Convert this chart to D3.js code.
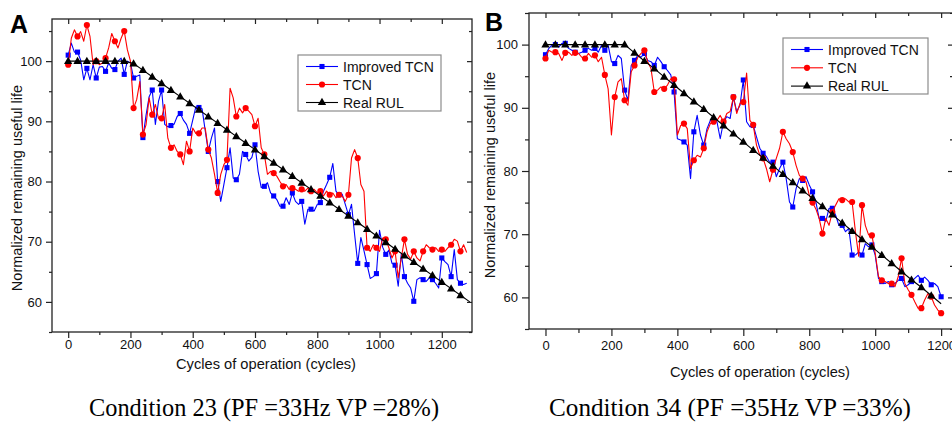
<!DOCTYPE html>
<html>
<head>
<meta charset="utf-8">
<script src="https://cdn.jsdelivr.net/npm/d3@7"></script>
<style>
  body { margin: 0; background: #ffffff; }
</style>
</head>
<body>
<div id="chart"></div>
<script>
// ---- data (RUL in %, one value every 10 cycles) ----
const cycleStep = 10;
const markerEvery = 3; // one marker every 30 cycles

// Panel A: condition 23
const improvedA = [101, 103, 101.5, 101.5, 100.2, 96.9, 98.8, 96.9, 99.4, 97.2,
  99.0, 99.1, 98.3, 99.7, 98.8, 98.6, 100, 100.5, 97.8, 100,
  99.7, 97.2, 97.5, 97.7, 87.3, 91, 94.1, 95.2, 89.5, 93.3,
  95.2, 89.5, 89.1, 89.3, 89.5, 90.8, 91.3, 90.2, 89.5, 88.0,
  90.2, 92.4, 92.3, 92.1, 88.5, 85, 87.2, 88.9, 80, 76.7,
  79.5, 82.3, 85.6, 80.6, 80.3, 81.2, 85, 84.5, 83.4, 84,
  86.1, 81.7, 79, 79.2, 79.8, 78.1, 77.6, 77, 75.9, 75.9,
  77.3, 76.2, 78.1, 76.7, 76.2, 76.7, 72.9, 75.4, 75.4, 75.1,
  76.2, 76.5, 78.4, 79.5, 80.7, 83.0, 78.4, 77.8, 77.9, 76.2,
  74.5, 76.2, 71.2, 66.4, 70.7, 68.5, 66.2, 63.9, 64.2, 64.7,
  71.9, 69.1, 67.9, 68.6, 66.4, 66.1, 62.6, 68, 64.2, 63.1,
  62.3, 60.1, 63.7, 64, 63.7, 63.4, 64, 63.7, 63.1, 62.3,
  67.3, 66.7, 66.2, 64.2, 68.7, 63.7, 63.1, 62.9, 63.1];
const tcnA = [99.4, 103.8, 105.2, 104.1, 104.9, 103.3, 106, 104.1, 99.4, 100,
  99.4, 99.7, 100.5, 102.2, 104.6, 103.3, 102.2, 103.8, 105, 101.9,
  100, 92.2, 93.6, 96.6, 87.8, 89.4, 93.9, 91.1, 92.8, 90.5,
  90.5, 92.8, 87.2, 85.6, 86.1, 85, 84.5, 82.8, 86.7, 85,
  88.9, 88, 88, 88.9, 88.9, 85.3, 83.9, 81.2, 78.1, 81.2,
  82.8, 83.6, 95.5, 93.9, 90.8, 92.2, 91.4, 92.2, 91.7, 91.1,
  89.2, 90.5, 85.6, 84.5, 81.2, 81.7, 81.4, 80.9, 80, 79.2,
  79.5, 78.7, 78.9, 78.7, 78.4, 78.7, 78.4, 78.9, 78.4, 78.7,
  78.1, 78.4, 77.6, 78.4, 77.8, 78.1, 77.3, 77.8, 77.6, 76.7,
  77.8, 83.9, 85.3, 83.9, 79.5, 78.4, 69, 68.4, 69.5, 69,
  68.4, 70.6, 70.4, 69, 67.3, 68.4, 64, 67.3, 70.4, 67.9,
  67.1, 68.4, 67.3, 66.8, 68.4, 69.5, 69, 68.7, 69, 68.4,
  68.7, 68.4, 69, 69.5, 70.4, 70.1, 68.4, 69.5, 68.2];
const rulCyclesA = [0, 30, 60, 90, 120, 150, 180, 210, 240, 270, 300, 330, 360, 390, 420,
  450, 480, 510, 540, 570, 600, 630, 660, 690, 720, 750, 780, 810, 840, 870,
  900, 930, 960, 990, 1020, 1050, 1080, 1110, 1140, 1170, 1200, 1230, 1260, 1290];
const rulA = [100, 100, 100, 100, 100, 100, 100, 99.6, 98.5, 97.4, 96.3, 95.2, 94.1, 93.0, 91.9,
  90.8, 89.7, 88.6, 87.5, 86.4, 85.3, 84.2, 83.1, 82.0, 80.9, 79.8, 78.7, 77.6, 76.5, 75.4,
  74.3, 73.2, 72.1, 71.0, 69.9, 68.8, 67.7, 66.6, 65.5, 64.4, 63.3, 62.2, 61.1, 60.0];

// Panel B: condition 34
const improvedB = [98.4, 99.4, 99.9, 100, 99.6, 100.2, 100.2, 99.4, 99.1, 98.8,
  98.6, 98.8, 99.1, 99.4, 99.1, 99.4, 98.8, 99.9, 99.1, 99.9,
  97.3, 97, 98.3, 97.8, 92.8, 91.2, 96.7, 97.5, 98.3, 98,
  98.6, 97.5, 97.3, 96.7, 98, 97.3, 96.5, 95.9, 95.2, 92.5,
  85.1, 84.9, 84.6, 84.1, 78.8, 86.2, 88.8, 85.7, 84.1, 86.7,
  88, 88, 87.8, 85.1, 87.8, 88.6, 88.3, 91.7, 89.4, 90.4,
  94.4, 87.8, 87, 87.2, 85.4, 83.6, 82.8, 82.3, 81.4, 81.4,
  79.1, 80.4, 81.4, 78.8, 75.1, 74.3, 77.2, 78.8, 78.5, 79.1,
  77.8, 76.7, 75.1, 72.5, 72.5, 72, 74.1, 74.1, 73, 71.4,
  71.4, 70.4, 70.9, 66.7, 66.7, 67.2, 66.7, 68.5, 68, 68.3,
  66.7, 63, 62.5, 62.2, 62.5, 62, 62.2, 62.7, 63, 61.7,
  62, 62.5, 63, 63.5, 62.7, 63.2, 62.7, 62, 62.2, 61.7,
  60.1];
const tcnB = [97.8, 99.1, 98.8, 98.8, 98.6, 97.5, 98.7, 98.8, 98.3, 98.7,
  98.6, 98, 97.8, 98.6, 98, 98.3, 97.3, 98, 95.2, 93,
  85.7, 91.7, 94.1, 94.6, 91.2, 90.4, 95.7, 96.7, 98, 98.6,
  99.1, 97.3, 96.2, 92.5, 92.8, 93.3, 93, 93.6, 94.6, 94.5,
  85.7, 87.2, 87.5, 86.7, 80.4, 81.7, 82.5, 82.2, 83.6, 86.2,
  87.5, 87.8, 88, 88.8, 87.8, 89.1, 89.4, 91.7, 89.1, 90.7,
  90.9, 95.5, 88, 87.3, 84.1, 82.5, 82, 80.4, 78.3, 80.2,
  82, 83.6, 86.2, 85.1, 84.3, 83, 80.9, 79.3, 78.8, 78.3,
  76.2, 75, 74, 72.5, 70.1, 72.5, 71.4, 73.5, 74.6, 75.6,
  75.4, 75.6, 75.1, 75.1, 70.4, 66.5, 74.6, 71.4, 69.9, 69.8,
  67, 63.3, 62.7, 62.5, 62.2, 62.2, 61.7, 63.3, 66.2, 62.2,
  61.2, 60.4, 59.3, 58.3, 58.3, 59.6, 60.6, 60.1, 58.8, 58,
  57.5];
const rulCyclesB = [0, 30, 60, 90, 120, 150, 180, 210, 240, 270, 300, 330, 360, 390,
  420, 450, 480, 510, 540, 570, 600, 630, 660, 690, 720, 750, 780, 810, 840, 870,
  900, 930, 960, 990, 1020, 1050, 1080, 1110, 1140, 1170, 1200];
const rulB = [100, 100, 100, 100, 100, 100, 100, 100, 100, 98.7, 97.4, 96.2, 94.9, 93.6,
  92.3, 91.0, 89.8, 88.5, 87.2, 85.9, 84.6, 83.3, 82.1, 80.8, 79.5, 78.2, 76.9, 75.7, 74.4, 73.1,
  71.8, 70.5, 69.2, 68.0, 66.7, 65.4, 64.1, 62.8, 61.6, 60.3, 59.0];

const xMajorTicks = [0, 200, 400, 600, 800, 1000, 1200];
const xMinorTicks = [100, 300, 500, 700, 900, 1100, 1300];
const yMajorTicks = [60, 70, 80, 90, 100];
const yMinorTicks = [55, 65, 75, 85, 95, 105];

const seriesNames = ["Improved TCN", "TCN", "Real RUL"];

// ---- style ----
const fillStyle = {
  improved: "#0000ff",
  tcn: "#ff0000",
  rul: "#000000",
  axis: "#222222",
  text: "#111111",
  legendBorder: "#8c8c8c",
  sans: "Arial, 'Liberation Sans', sans-serif",
  serif: "'Times New Roman', 'Liberation Serif', serif"
};

const width = 952, height = 422;

const svg = d3.select("#chart").append("svg")
  .attr("width", width)
  .attr("height", height)
  .attr("xmlns", "http://www.w3.org/2000/svg");

svg.append("rect").attr("width", width).attr("height", height).attr("fill", "#fff");

function seriesPoints(values) {
  return values.map((v, i) => ({ c: i * cycleStep, v: v, i: i }));
}

function drawPanel(cfg) {
  const g = svg.append("g");
  const x = d3.scaleLinear().domain(cfg.xDomain).range([cfg.left, cfg.right]);
  const y = d3.scaleLinear().domain(cfg.yDomain).range([cfg.bottom, cfg.top]);

  const clipId = "clip-" + cfg.id;
  svg.append("defs").append("clipPath").attr("id", clipId)
    .append("rect")
    .attr("x", cfg.left).attr("y", cfg.top)
    .attr("width", cfg.right - cfg.left).attr("height", cfg.bottom - cfg.top);

  // axes: bottom/left outward, top/right inward
  const styleAxis = sel => {
    sel.select(".domain").remove();
    sel.selectAll("line").attr("stroke", fillStyle.axis).attr("stroke-width", 1.2);
    sel.selectAll("text")
      .style("font-family", fillStyle.sans)
      .style("font-size", "13px")
      .attr("fill", fillStyle.text);
  };
  const xMinor = xMinorTicks.filter(t => t <= cfg.xDomain[1]);
  const yMinor = yMinorTicks.filter(t => t <= cfg.yDomain[1]);

  g.append("g").attr("transform", `translate(0,${cfg.bottom})`)
    .call(d3.axisBottom(x).tickValues(xMajorTicks).tickSize(cfg.majorTick)
      .tickPadding(cfg.xPad).tickFormat(d3.format("d")))
    .call(styleAxis);
  g.append("g").attr("transform", `translate(0,${cfg.bottom})`)
    .call(d3.axisBottom(x).tickValues(xMinor).tickSize(cfg.minorTick).tickFormat(""))
    .call(styleAxis);
  g.append("g").attr("transform", `translate(0,${cfg.top})`)
    .call(d3.axisTop(x).tickValues(xMajorTicks).tickSize(-5).tickFormat(""))
    .call(styleAxis);
  g.append("g").attr("transform", `translate(0,${cfg.top})`)
    .call(d3.axisTop(x).tickValues(xMinor).tickSize(-3).tickFormat(""))
    .call(styleAxis);

  g.append("g").attr("transform", `translate(${cfg.left},0)`)
    .call(d3.axisLeft(y).tickValues(yMajorTicks).tickSize(cfg.majorTick).tickPadding(4))
    .call(styleAxis);
  g.append("g").attr("transform", `translate(${cfg.left},0)`)
    .call(d3.axisLeft(y).tickValues(yMinor).tickSize(cfg.minorTick).tickFormat(""))
    .call(styleAxis);
  g.append("g").attr("transform", `translate(${cfg.right},0)`)
    .call(d3.axisRight(y).tickValues(yMajorTicks).tickSize(-5).tickFormat(""))
    .call(styleAxis);
  g.append("g").attr("transform", `translate(${cfg.right},0)`)
    .call(d3.axisRight(y).tickValues(yMinor).tickSize(-3).tickFormat(""))
    .call(styleAxis);

  // frame
  g.append("rect")
    .attr("x", cfg.left).attr("y", cfg.top)
    .attr("width", cfg.right - cfg.left).attr("height", cfg.bottom - cfg.top)
    .attr("fill", "none").attr("stroke", fillStyle.axis).attr("stroke-width", 1.3);

  // series
  const plot = g.append("g").attr("clip-path", `url(#${clipId})`);
  const line = d3.line().x(d => x(d.c)).y(d => y(d.v));

  const series = [
    { pts: seriesPoints(cfg.improved), color: fillStyle.improved, symbol: d3.symbolSquare, size: 26 },
    { pts: seriesPoints(cfg.tcn), color: fillStyle.tcn, symbol: d3.symbolCircle, size: 30 }
  ];
  series.forEach(s => {
    plot.append("path").datum(s.pts)
      .attr("d", line).attr("fill", "none")
      .attr("stroke", s.color).attr("stroke-width", 1.1).attr("stroke-linejoin", "round");
    plot.selectAll(null).data(s.pts.filter(d => d.i % markerEvery === 0))
      .enter().append("path")
      .attr("d", d3.symbol(s.symbol, s.size))
      .attr("transform", d => `translate(${x(d.c)},${y(d.v)})`)
      .attr("fill", s.color);
  });

  const rulPts = cfg.rulCycles.map((c, i) => ({ c: c, v: cfg.rul[i] }));
  plot.append("path").datum(rulPts)
    .attr("d", line).attr("fill", "none")
    .attr("stroke", fillStyle.rul).attr("stroke-width", 1.1);
  plot.selectAll(null).data(rulPts.filter(d => d.c <= cfg.lastMarker))
    .enter().append("path")
    .attr("d", d3.symbol(d3.symbolTriangle, 30))
    .attr("transform", d => `translate(${x(d.c)},${y(d.v) + 0.5})`)
    .attr("fill", fillStyle.rul);

  // legend
  const lg = g.append("g");
  lg.append("rect")
    .attr("x", cfg.legend.x).attr("y", cfg.legend.y)
    .attr("width", cfg.legend.w).attr("height", cfg.legend.h)
    .attr("fill", "#fff").attr("stroke", fillStyle.legendBorder).attr("stroke-width", 1.2);
  const legendItems = [
    { name: seriesNames[0], color: fillStyle.improved, symbol: d3.symbolSquare, size: 26 },
    { name: seriesNames[1], color: fillStyle.tcn, symbol: d3.symbolCircle, size: 30 },
    { name: seriesNames[2], color: fillStyle.rul, symbol: d3.symbolTriangle, size: 30 }
  ];
  legendItems.forEach((it, i) => {
    const yy = cfg.legend.y + cfg.legend.firstRow + i * cfg.legend.rowGap;
    const x0 = cfg.legend.x + 8;
    lg.append("line").attr("x1", x0).attr("x2", x0 + 32).attr("y1", yy).attr("y2", yy)
      .attr("stroke", it.color).attr("stroke-width", 1.1);
    lg.append("path").attr("d", d3.symbol(it.symbol, it.size))
      .attr("transform", `translate(${x0 + 16},${yy})`).attr("fill", it.color);
    lg.append("text").attr("x", x0 + 37).attr("y", yy + 5)
      .style("font-family", fillStyle.sans).style("font-size", "14px")
      .attr("fill", fillStyle.text).text(it.name);
  });

  // axis titles
  g.append("text")
    .attr("x", cfg.xTitle.x).attr("y", cfg.xTitle.y)
    .attr("text-anchor", "middle")
    .attr("textLength", 180).attr("lengthAdjust", "spacingAndGlyphs")
    .style("font-family", fillStyle.sans).style("font-size", "15px")
    .attr("fill", fillStyle.text)
    .text("Cycles of operation (cycles)");
  g.append("text")
    .attr("transform", `translate(${cfg.yTitle.x},${cfg.yTitle.y}) rotate(-90)`)
    .attr("text-anchor", "middle")
    .style("font-family", fillStyle.sans).style("font-size", "14.5px")
    .attr("fill", fillStyle.text)
    .text("Normalized remaining useful life");

  // panel letter
  g.append("text")
    .attr("x", cfg.letter.x).attr("y", cfg.letter.y)
    .style("font-family", fillStyle.sans).style("font-size", "25px").style("font-weight", "bold")
    .attr("fill", "#000").text(cfg.id);

  // caption
  g.append("text")
    .attr("x", cfg.caption.x).attr("y", 416)
    .attr("text-anchor", "middle")
    .attr("textLength", cfg.caption.w).attr("lengthAdjust", "spacingAndGlyphs")
    .style("font-family", fillStyle.serif).style("font-size", "25px")
    .attr("fill", "#000").text(cfg.caption.text);
}

drawPanel({
  id: "A",
  left: 52, right: 472, top: 19, bottom: 332,
  xDomain: [-52, 1297], yDomain: [55, 107],
  majorTick: 6, minorTick: 3, xPad: 2,
  improved: improvedA, tcn: tcnA, rulCycles: rulCyclesA, rul: rulA, lastMarker: 1260,
  legend: { x: 298, y: 55, w: 143, h: 56, firstRow: 11.5, rowGap: 18 },
  xTitle: { x: 266, y: 369 },
  yTitle: { x: 22, y: 188 },
  letter: { x: 10, y: 33 },
  caption: { x: 264, w: 350, text: "Condition 23 (PF =33Hz VP =28%)" }
});

drawPanel({
  id: "B",
  left: 529, right: 953, top: 13, bottom: 329,
  xDomain: [-50, 1236], yDomain: [55, 105],
  majorTick: 7, minorTick: 4, xPad: 5,
  improved: improvedB, tcn: tcnB, rulCycles: rulCyclesB, rul: rulB, lastMarker: 1170,
  legend: { x: 783, y: 38, w: 145, h: 56, firstRow: 11.5, rowGap: 18.3 },
  xTitle: { x: 760, y: 377 },
  yTitle: { x: 495, y: 175 },
  letter: { x: 485, y: 31 },
  caption: { x: 730, w: 362, text: "Condition 34 (PF =35Hz VP =33%)" }
});
</script>
</body>
</html>
